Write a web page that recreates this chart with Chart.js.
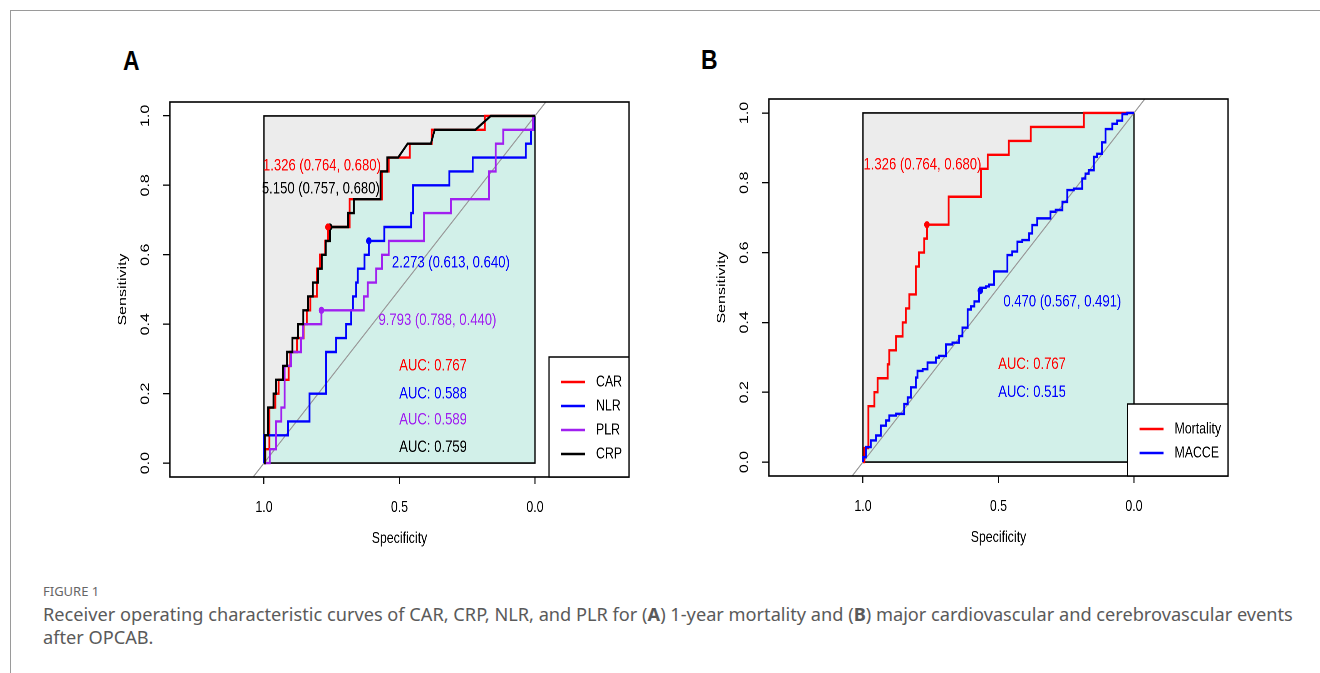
<!DOCTYPE html>
<html>
<head>
<meta charset="utf-8">
<title>Figure 1 - ROC curves</title>
<script src="https://cdn.jsdelivr.net/npm/chart.js@4.4.1/dist/chart.umd.min.js"></script>
<style>
  html, body { margin: 0; padding: 0; background: #fff; }
  body { width: 1320px; height: 673px; position: relative; overflow: hidden; }
  .rule-top { position: absolute; left: 10px; top: 10px; right: 0; height: 1px; background: #9a9a9a; }
  .rule-left { position: absolute; left: 10px; top: 10px; bottom: 0; width: 1px; background: #9a9a9a; }
  .letter { position: absolute; font: bold 27px/27px "Liberation Sans", Arial, sans-serif; color: #000;
            transform: scaleX(0.85); transform-origin: 0 0; }
  .panel { position: absolute; transform-origin: 0 0; }
  .fig-label { position: absolute; left: 43px; top: 585px; font: 13px/13px "Noto Sans", sans-serif; color: #666; }
  .caption { position: absolute; left: 43px; top: 603px; font: 18.2px/23.3px "Noto Sans", sans-serif; color: #5a5a5a; white-space: nowrap; }
</style>
</head>
<body>
<div class="rule-top"></div>
<div class="rule-left"></div>
<div class="letter" style="left:123px; top:48px;">A</div>
<div class="letter" style="left:701px; top:47px;">B</div>
<div class="panel" id="wrapA" style="left:80px; top:80px;"><canvas id="chartA" width="740" height="490"></canvas></div>
<div class="panel" id="wrapB" style="left:679px; top:77px;"><canvas id="chartB" width="740" height="492"></canvas></div>
<div class="fig-label">FIGURE 1</div>
<div class="caption">Receiver operating characteristic curves of CAR, CRP, NLR, and PLR for (<b>A</b>) 1-year mortality and (<b>B</b>) major cardiovascular and cerebrovascular events<br>after OPCAB.</div>

<script>
// ---- axes ----
const SPEC_TICKS = [1.0, 0.5, 0.0];
const SENS_TICKS = [0.0, 0.2, 0.4, 0.6, 0.8, 1.0];
const X_RANGE = [-0.347, 1.347];
const Y_RANGE = [-0.04, 1.04];

// ---- panel A: 1-year mortality (specificity, sensitivity) ----
const CAR_SPEC = [1, 0.995, 0.995, 0.98, 0.98, 0.958, 0.958, 0.946, 0.946, 0.909, 0.909, 0.903, 0.903, 0.878,
    0.878, 0.854, 0.854, 0.842, 0.842, 0.829, 0.829, 0.805, 0.805, 0.793, 0.793, 0.774, 0.774, 0.764, 0.764,
    0.684, 0.684, 0.565, 0.565, 0.54, 0.54, 0.462, 0.462, 0.381, 0.381, 0.185, 0.185, 0];
const CAR_SENS = [0, 0, 0.04, 0.04, 0.16, 0.16, 0.20, 0.20, 0.24, 0.24, 0.28, 0.28, 0.32, 0.32,
    0.36, 0.36, 0.40, 0.40, 0.44, 0.44, 0.48, 0.48, 0.56, 0.56, 0.60, 0.60, 0.64, 0.64, 0.68,
    0.68, 0.76, 0.76, 0.84, 0.84, 0.88, 0.88, 0.92, 0.92, 0.96, 0.96, 1, 1];

const NLR_SPEC = [1, 1, 0.912, 0.912, 0.832, 0.832, 0.771, 0.771, 0.734, 0.734, 0.697, 0.697, 0.678, 0.678,
    0.672, 0.672, 0.66, 0.66, 0.654, 0.654, 0.629, 0.629, 0.613, 0.613, 0.556, 0.556, 0.457, 0.457, 0.45,
    0.45, 0.316, 0.316, 0.23, 0.23, 0.034, 0.034, 0.015, 0.015, 0.005, 0.005, 0];
const NLR_SENS = [0, 0.08, 0.08, 0.12, 0.12, 0.20, 0.20, 0.32, 0.32, 0.36, 0.36, 0.40, 0.40, 0.44,
    0.44, 0.48, 0.48, 0.52, 0.52, 0.56, 0.56, 0.60, 0.60, 0.64, 0.64, 0.68, 0.68, 0.72, 0.72,
    0.80, 0.80, 0.84, 0.84, 0.88, 0.88, 0.92, 0.92, 0.96, 0.96, 1, 1];

const PLR_SPEC = [1, 0.979, 0.979, 0.955, 0.955, 0.936, 0.936, 0.924, 0.924, 0.9, 0.9, 0.863, 0.863, 0.856,
    0.856, 0.788, 0.788, 0.632, 0.632, 0.617, 0.617, 0.586, 0.586, 0.565, 0.565, 0.54, 0.54, 0.409, 0.409,
    0.31, 0.31, 0.17, 0.17, 0.145, 0.145, 0.117, 0.117, 0.008, 0.008, 0];
const PLR_SENS = [0, 0, 0.04, 0.04, 0.12, 0.12, 0.16, 0.16, 0.28, 0.28, 0.32, 0.32, 0.36, 0.36,
    0.40, 0.40, 0.44, 0.44, 0.48, 0.48, 0.52, 0.52, 0.56, 0.56, 0.60, 0.60, 0.64, 0.64, 0.72,
    0.72, 0.76, 0.76, 0.84, 0.84, 0.92, 0.92, 0.96, 0.96, 1, 1];

const CRP_SPEC = [1, 0.997, 0.997, 0.985, 0.985, 0.965, 0.965, 0.955, 0.955, 0.93, 0.93, 0.915, 0.915, 0.895,
    0.895, 0.875, 0.875, 0.855, 0.855, 0.838, 0.838, 0.82, 0.82, 0.8, 0.8, 0.787, 0.787, 0.772, 0.772,
    0.757, 0.757, 0.69, 0.69, 0.668, 0.668, 0.57, 0.57, 0.545, 0.545, 0.505, 0.47, 0.384, 0.37, 0.22,
    0.163, 0];
const CRP_SENS = [0, 0, 0.08, 0.08, 0.16, 0.16, 0.20, 0.20, 0.24, 0.24, 0.28, 0.28, 0.32, 0.32,
    0.36, 0.36, 0.40, 0.40, 0.44, 0.44, 0.48, 0.48, 0.52, 0.52, 0.56, 0.56, 0.60, 0.60, 0.64,
    0.64, 0.68, 0.68, 0.72, 0.72, 0.76, 0.76, 0.84, 0.84, 0.88, 0.88, 0.92, 0.92, 0.96, 0.96,
    1, 1];

const NAMES_A = ['CAR', 'NLR', 'PLR', 'CRP'];
const AUC_A = [0.767, 0.588, 0.589, 0.759];
const CUT_A = [1.326, 2.273, 9.793, 5.150];
const BEST_SPEC_A = [0.764, 0.613, 0.788, 0.757];
const BEST_SENS_A = [0.680, 0.640, 0.440, 0.680];

// ---- panel B: mortality vs MACCE ----
const MORT_SPEC = CAR_SPEC;   // same CAR curve as panel A
const MORT_SENS = CAR_SENS;
const MACCE_SPEC = [1, 0.989, 0.971, 0.952, 0.934, 0.915, 0.903, 0.878, 0.848, 0.835, 0.823, 0.805, 0.799,
    0.780, 0.762, 0.731, 0.719, 0.694, 0.670, 0.645, 0.633, 0.614, 0.602, 0.589, 0.572, 0.567, 0.547,
    0.535, 0.516, 0.492, 0.467, 0.449, 0.430, 0.412, 0.387, 0.375, 0.357, 0.344, 0.308, 0.289, 0.264,
    0.246, 0.222, 0.215, 0.191, 0.179, 0.167, 0.148, 0.136, 0.118, 0.105, 0.080, 0.062, 0.043, 0.025, 0];
const MACCE_SENS = [0, 0.014, 0.043, 0.062, 0.076, 0.104, 0.119, 0.133, 0.138, 0.166, 0.185, 0.214, 0.242,
    0.261, 0.266, 0.285, 0.299, 0.304, 0.337, 0.342, 0.361, 0.385, 0.437, 0.446, 0.460, 0.491, 0.499,
    0.503, 0.508, 0.546, 0.546, 0.593, 0.603, 0.631, 0.636, 0.655, 0.679, 0.698, 0.698, 0.717, 0.722,
    0.745, 0.779, 0.783, 0.783, 0.812, 0.826, 0.836, 0.874, 0.883, 0.916, 0.954, 0.969, 0.978, 0.997, 1];

const NAMES_B = ['Mortality', 'MACCE'];
const AUC_B = [0.767, 0.515];
const CUT_B = [1.326, 0.470];
const BEST_SPEC_B = [0.764, 0.567];
const BEST_SENS_B = [0.680, 0.491];

// ---- style ----
const SQUEEZE = 0.77027;            // the source figure is squeezed horizontally
const FONT = '"Liberation Sans", Arial, sans-serif';
const GRAY = '#ececec';
const TEAL = '#d2f0e9';
const AUC_X = 0.376;                // AUC text column (data units)
const AUC_Y = [0.28, 0.2, 0.125, 0.045];

const pts = (sx, sy) => sx.map((v, i) => ({ x: v, y: sy[i] }));

// gray max-AUC box, frame, threshold/AUC texts, R-style legend
function rocDecor(p) {
    return {
        id: 'rocDecor',
        beforeDraw(chart) {
            const { ctx, scales: { x, y } } = chart;
            const xa = x.getPixelForValue(1), xb = x.getPixelForValue(0);
            const ya = y.getPixelForValue(1), yb = y.getPixelForValue(0);
            ctx.save();
            ctx.fillStyle = GRAY;
            ctx.fillRect(xa, ya, xb - xa, yb - ya);
            ctx.restore();
        },
        afterDatasetsDraw(chart) {
            const { ctx, chartArea: a, scales: { x, y } } = chart;
            ctx.save();
            ctx.strokeStyle = '#000';
            ctx.lineWidth = 1.6;
            ctx.strokeRect(a.left, a.top, a.right - a.left, a.bottom - a.top);
            ctx.font = `17px ${FONT}`;
            ctx.textAlign = 'center';
            ctx.textBaseline = 'middle';
            p.names.forEach((n, i) => {
                const px = x.getPixelForValue(p.bestSpec[i]);
                const py = y.getPixelForValue(p.bestSens[i]);
                const [dx, dy] = p.labelOff[i];
                ctx.fillStyle = p.colors[i];
                ctx.fillText(`${p.cut[i].toFixed(3)} (${p.bestSpec[i].toFixed(3)}, ${p.bestSens[i].toFixed(3)})`,
                    px + dx / SQUEEZE, py + dy);
                ctx.fillText(`AUC: ${p.auc[i].toFixed(3)}`, x.getPixelForValue(AUC_X), y.getPixelForValue(AUC_Y[i]));
            });
            ctx.restore();
        },
        afterDraw(chart) {
            const { ctx, chartArea: a } = chart;
            ctx.save();
            ctx.font = `16px ${FONT}`;
            const tw = Math.max(...p.names.map(n => ctx.measureText(n).width));
            const w = 61 + tw + 9, h = p.names.length * 24 + 24;
            const left = a.right - w, top = a.bottom - h;
            ctx.fillStyle = '#fff';
            ctx.fillRect(left, top, w, h);
            ctx.strokeStyle = '#000';
            ctx.lineWidth = 1.5;
            ctx.strokeRect(left, top, w, h);
            ctx.textAlign = 'left';
            ctx.textBaseline = 'middle';
            p.names.forEach((n, i) => {
                const ly = top + 25 + i * 24;
                ctx.strokeStyle = p.colors[i];
                ctx.lineWidth = 2.4;
                ctx.beginPath();
                ctx.moveTo(left + 15.6, ly);
                ctx.lineTo(left + 46.8, ly);
                ctx.stroke();
                ctx.fillStyle = '#000';
                ctx.fillText(n, left + 61, ly);
            });
            ctx.restore();
        },
    };
}

function drawPanel(canvasId, p) {
    document.getElementById(canvasId).parentNode.style.transform = `scaleX(${SQUEEZE})`;

    const curves = p.names.map((n, i) => ({
        label: n, data: pts(p.spec[i], p.sens[i]),
        borderColor: p.colors[i], borderWidth: 2.4, pointRadius: 0, fill: false,
        stepped: p.stepped[i],
    }));
    const best = p.names.map((n, i) => ({
        label: n + ' cut-off', data: pts([p.bestSpec[i]], [p.bestSens[i]]), showLine: false,
        pointRadius: 3.6, pointBackgroundColor: p.colors[i], pointBorderColor: p.colors[i], pointBorderWidth: 0,
    }));
    const lo = Math.min(...SENS_TICKS), hi = Math.max(...SENS_TICKS);
    const diag = {
        label: 'chance', data: pts([1 - Y_RANGE[0], 1 - Y_RANGE[1]], Y_RANGE),
        borderColor: '#9a9a9a', borderWidth: 1.3, pointRadius: 0, fill: false,
    };
    const box = {
        label: 'box', data: pts([hi, hi, lo, lo, hi], [lo, hi, hi, lo, lo]),
        borderColor: '#000', borderWidth: 1.6, pointRadius: 0, fill: false,
    };
    const area = {
        label: 'auc', data: pts(p.spec[0], p.sens[0]),
        borderWidth: 0, pointRadius: 0, fill: 'origin', backgroundColor: TEAL,
    };
    // first dataset is painted last → cut-off points on top, AUC fill at the bottom
    const datasets = [...best, ...curves.slice().reverse(), diag, box, area];

    const tickFont = { family: FONT, size: 16 };
    new Chart(document.getElementById(canvasId), {
        type: 'line',
        data: { datasets },
        options: {
            responsive: false,
            animation: false,
            devicePixelRatio: 2,
            layout: { padding: { top: 22, right: 27.3, bottom: 0, left: 0 } },
            plugins: { legend: { display: false }, tooltip: { enabled: false } },
            scales: {
                x: {
                    type: 'linear', reverse: true, min: X_RANGE[0], max: X_RANGE[1],
                    afterBuildTicks: s => { s.ticks = SPEC_TICKS.map(v => ({ value: v })); },
                    afterFit: s => { s.height = 93; },
                    ticks: { color: '#000', font: tickFont, padding: 14, autoSkip: false,
                        minRotation: 0, maxRotation: 0, callback: v => Number(v).toFixed(1) },
                    grid: { drawOnChartArea: false, drawTicks: true, tickLength: 7, color: '#000', lineWidth: 1.3 },
                    border: { display: false },
                    title: { display: true, text: 'Specificity', color: '#000', font: tickFont, padding: { bottom: 22 } },
                },
                y: {
                    type: 'linear', min: Y_RANGE[0], max: Y_RANGE[1],
                    afterBuildTicks: s => { s.ticks = SENS_TICKS.map(v => ({ value: v })); },
                    afterFit: s => { s.width = 116.8; },
                    ticks: { color: '#000', font: tickFont, padding: 11.7, autoSkip: false,
                        minRotation: 90, maxRotation: 90, crossAlign: 'center', callback: v => Number(v).toFixed(1) },
                    grid: { drawOnChartArea: false, drawTicks: true, tickLength: 9, color: '#000', lineWidth: 1.3 },
                    border: { display: false },
                    title: { display: true, text: 'Sensitivity', color: '#000', font: tickFont, padding: { top: 46 } },
                },
            },
        },
        plugins: [rocDecor(p)],
    });
}

drawPanel('chartA', {
    names: NAMES_A,
    spec: [CAR_SPEC, NLR_SPEC, PLR_SPEC, CRP_SPEC],
    sens: [CAR_SENS, NLR_SENS, PLR_SENS, CRP_SENS],
    colors: ['#ff0000', '#0000ff', '#a020f0', '#000000'],
    stepped: [false, false, false, false],
    auc: AUC_A, cut: CUT_A, bestSpec: BEST_SPEC_A, bestSens: BEST_SENS_A,
    labelOff: [[-6, -61], [82, 22], [116, 10], [-9, -38]],   // screen px from the cut-off point
});

drawPanel('chartB', {
    names: NAMES_B,
    spec: [MORT_SPEC, MACCE_SPEC],
    sens: [MORT_SENS, MACCE_SENS],
    colors: ['#ff0000', '#0000ff'],
    stepped: [false, 'after'],
    auc: AUC_B, cut: CUT_B, bestSpec: BEST_SPEC_B, bestSens: BEST_SENS_B,
    labelOff: [[-4.5, -60], [82, 11]],
});
</script>
</body>
</html>
